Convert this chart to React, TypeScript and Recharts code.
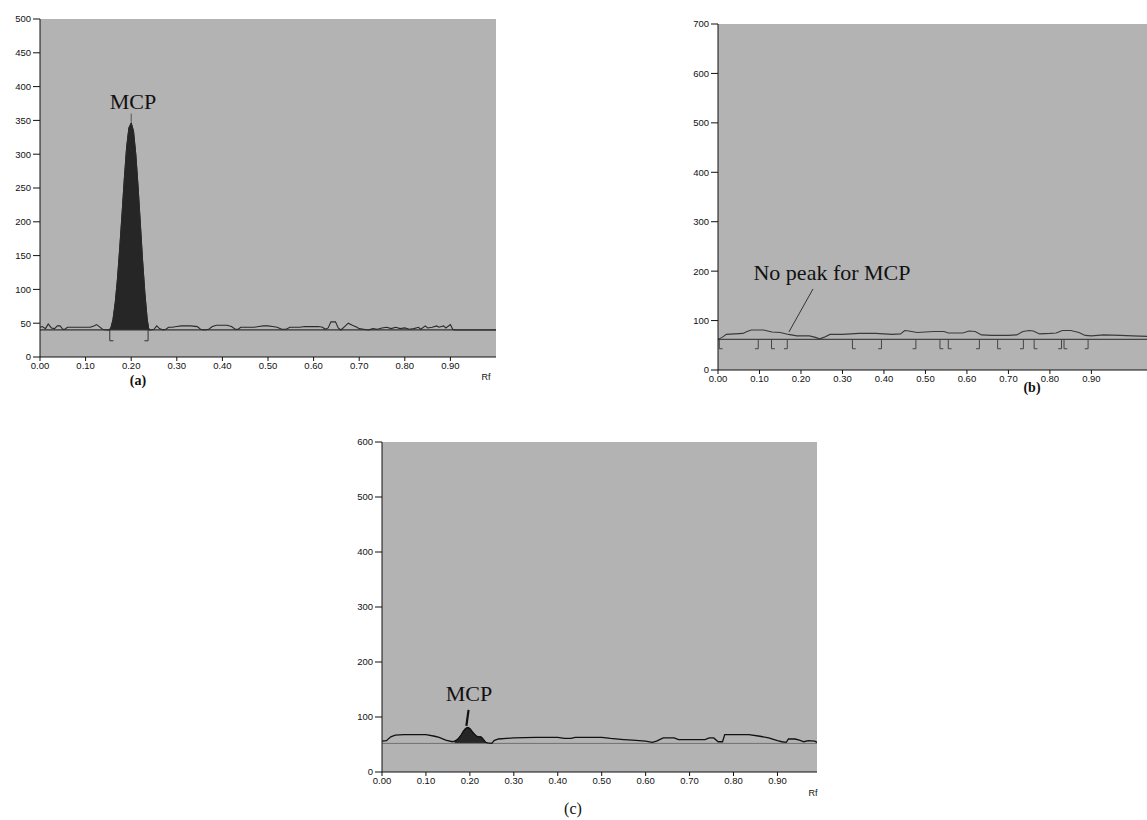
import React from 'react';
import {
  ComposedChart,
  Line,
  Area,
  XAxis,
  YAxis,
  ReferenceArea,
  ReferenceLine,
} from 'recharts';

// ---- panel (a) ----
const rfSignalA = [0, 0.005, 0.012, 0.018, 0.025, 0.032, 0.038, 0.044, 0.05, 0.055, 0.06, 0.07, 0.08, 0.09, 0.1, 0.11, 0.118, 0.124, 0.13, 0.137, 0.145, 0.15,
  0.242, 0.25, 0.256, 0.262, 0.27, 0.276, 0.282, 0.29, 0.3, 0.31, 0.32, 0.33, 0.345, 0.352, 0.36, 0.37, 0.378, 0.387, 0.41, 0.42, 0.428, 0.435, 0.44, 0.46, 0.47, 0.48, 0.49, 0.5, 0.51, 0.52, 0.53, 0.54, 0.548, 0.56, 0.57, 0.58, 0.6, 0.61, 0.62, 0.625, 0.632, 0.638, 0.648, 0.654, 0.66, 0.668, 0.676, 0.685, 0.695, 0.7, 0.71, 0.72, 0.73, 0.74, 0.75, 0.76, 0.77, 0.78, 0.79, 0.8, 0.81, 0.82, 0.83, 0.835, 0.845, 0.85, 0.86, 0.87, 0.875, 0.885, 0.89, 0.9, 0.905, 0.91, 1.0];
const valSignalA = [44, 45, 42, 49, 43, 42, 46, 46, 41, 41, 44, 44, 44, 44, 44, 44, 46, 48, 45, 41, 40, 40,
  40, 41, 46, 42, 40, 41, 44, 44, 45, 46, 46, 46, 45, 41, 40, 41, 45, 47, 47, 45, 41, 41, 44, 44, 44, 45, 46, 46, 45, 44, 41, 41, 44, 44, 44, 45, 45, 45, 44, 41, 43, 52, 52, 43, 40, 45, 50, 47, 44, 42, 41, 40, 42, 41, 43, 44, 42, 44, 42, 43, 41, 42, 44, 41, 46, 43, 44, 46, 44, 46, 43, 48, 41, 40, 40];
const rfPeakA = [0.15, 0.155, 0.16, 0.165, 0.17, 0.175, 0.18, 0.185, 0.19, 0.195, 0.2, 0.205, 0.21, 0.215, 0.22, 0.225, 0.23, 0.235, 0.238, 0.24];
const valPeakA = [40, 42, 55, 80, 116, 162, 212, 264, 310, 339, 346, 334, 300, 252, 197, 142, 94, 56, 43, 40];
const baselineA = 40;
const bracketsA: [number, 'L' | 'R'][] = [[0.153, 'L'], [0.237, 'R']];
const yTicksA = [0, 50, 100, 150, 200, 250, 300, 350, 400, 450, 500];

// ---- panel (b) ----
const rfSignalB = [0, 0.01, 0.02, 0.04, 0.06, 0.07, 0.08, 0.11, 0.12, 0.13, 0.15, 0.17, 0.19, 0.22, 0.235, 0.245, 0.255, 0.27, 0.3, 0.32, 0.34, 0.38, 0.4, 0.42, 0.44, 0.45, 0.46, 0.48, 0.5, 0.52, 0.545, 0.555, 0.59, 0.605, 0.62, 0.635, 0.66, 0.7, 0.72, 0.735, 0.75, 0.76, 0.775, 0.8, 0.815, 0.83, 0.85, 0.87, 0.885, 0.9, 0.93, 0.97, 1.0, 1.034];
const valSignalB = [62, 66, 72, 73, 74, 78, 81, 81, 79, 77, 76, 72, 69, 69, 66, 63, 66, 72, 72, 73, 74, 74, 73, 72, 73, 80, 79, 76, 77, 78, 78, 75, 75, 79, 78, 71, 70, 70, 71, 78, 80, 79, 73, 74, 75, 80, 80, 76, 70, 69, 71, 70, 69, 68];
const baselineB = 62;
const bracketsB: [number, 'L' | 'R'][] = [
  [0.003, 'L'], [0.097, 'R'], [0.129, 'L'], [0.167, 'R'], [0.324, 'L'], [0.394, 'R'],
  [0.477, 'R'], [0.535, 'L'], [0.555, 'L'], [0.63, 'R'], [0.674, 'L'], [0.736, 'R'],
  [0.762, 'L'], [0.828, 'R'], [0.834, 'L'], [0.892, 'R'],
];
const yTicksB = [0, 100, 200, 300, 400, 500, 600, 700];

// ---- panel (c) ----
const rfSignalC = [0, 0.01, 0.02, 0.03, 0.05, 0.1, 0.12, 0.13, 0.145, 0.16,
  0.25, 0.255, 0.265, 0.3, 0.35, 0.4, 0.415, 0.43, 0.44, 0.5, 0.52, 0.55, 0.57, 0.6, 0.615, 0.625, 0.64, 0.665, 0.675, 0.735, 0.745, 0.755, 0.765, 0.775, 0.78, 0.835, 0.86, 0.88, 0.9, 0.91, 0.92, 0.925, 0.94, 0.95, 0.96, 0.97, 0.985, 0.99];
const valSignalC = [56, 57, 64, 67, 68, 68, 65, 63, 58, 55,
  52, 57, 60, 62, 63, 63, 61, 61, 63, 63, 61, 59, 58, 56, 54, 56, 62, 62, 59, 59, 62, 62, 55, 55, 68, 68, 65, 62, 57, 55, 54, 60, 60, 58, 55, 57, 56, 54];
const rfPeakC = [0.165, 0.17, 0.175, 0.18, 0.185, 0.19, 0.195, 0.2, 0.205, 0.21, 0.215, 0.22, 0.225, 0.228, 0.232, 0.236, 0.24];
const valPeakC = [56, 58, 62, 67, 74, 79, 81, 79, 74, 69, 65, 64, 64, 62, 58, 54, 53];
const baselineC = 52;
const yTicksC = [0, 100, 200, 300, 400, 500, 600];

const xTicks = [0, 0.1, 0.2, 0.3, 0.4, 0.5, 0.6, 0.7, 0.8, 0.9];

function buildTable(sigRf: number[], sigVal: number[], peakRf: number[] = [], peakVal: number[] = []) {
  const rows: { rf: number; sig: number; peak: number | null }[] = [];
  sigRf.forEach((rf, i) => rows.push({ rf, sig: sigVal[i], peak: null }));
  peakRf.forEach((rf, i) => {
    const hit = rows.find((r) => r.rf === rf);
    if (hit) hit.peak = peakVal[i];
    else rows.push({ rf, sig: peakVal[i], peak: peakVal[i] });
  });
  return rows.sort((a, b) => a.rf - b.rf);
}

const dataA = buildTable(rfSignalA, valSignalA, rfPeakA, valPeakA);
const dataB = buildTable(rfSignalB, valSignalB);
const dataC = buildTable(rfSignalC, valSignalC, rfPeakC, valPeakC);

const sans = 'Arial, "Liberation Sans", sans-serif';
const tickStyle = { fontSize: 9.5, fill: '#111', fontFamily: sans };
const serif = '"Liberation Serif", "Times New Roman", serif';
const plotBg = '#b3b3b3';

function brackets(list: [number, 'L' | 'R'][], top: number, bottom: number, serifW: number, color: string) {
  const out: React.ReactNode[] = [];
  list.forEach(([rf, side], i) => {
    const x2 = side === 'L' ? rf + serifW : rf - serifW;
    out.push(
      <ReferenceLine key={`v${i}`} segment={[{ x: rf, y: top }, { x: rf, y: bottom }]} stroke={color} strokeWidth={1} />,
      <ReferenceLine key={`h${i}`} segment={[{ x: rf, y: bottom }, { x: x2, y: bottom }]} stroke={color} strokeWidth={1} />
    );
  });
  return out;
}

const Text = ({ x, y, size, children, weight = 'normal', family = serif }: any) => (
  <div
    style={{
      position: 'absolute',
      left: x,
      top: y,
      transform: 'translate(-50%, -50%)',
      fontSize: size,
      fontFamily: family,
      fontWeight: weight,
      lineHeight: 1,
      whiteSpace: 'nowrap',
      color: '#111',
    }}
  >
    {children}
  </div>
);

export default function App() {
  return (
    <div style={{ position: 'absolute', left: 0, top: 0, width: 1147, height: 820, background: '#fff', overflow: 'hidden' }}>
      {/* (a) */}
      <div style={{ position: 'absolute', left: 0, top: 0 }}>
        <ComposedChart width={510} height={380} data={dataA} margin={{ top: 19, right: 14, left: 0, bottom: 3 }}>
          <XAxis
            type="number"
            dataKey="rf"
            domain={[0, 1]}
            ticks={xTicks}
            interval={0}
            allowDataOverflow
            height={20}
            tickSize={4}
            tickMargin={1}
            tick={tickStyle}
            stroke="#111"
            tickFormatter={(v: number) => v.toFixed(2)}
          />
          <YAxis
            type="number"
            domain={[0, 500]}
            ticks={yTicksA}
            interval={0}
            allowDataOverflow
            width={40}
            tickSize={7}
            tickMargin={2}
            tick={tickStyle}
            stroke="#111"
          />
          <ReferenceArea x1={0} x2={1} y1={0} y2={500} fill={plotBg} fillOpacity={1} stroke="none" />
          <ReferenceLine y={baselineA} stroke="#333" strokeWidth={1.3} />
          {brackets(bracketsA, baselineA, 24, 0.008, '#333')}
          <Area type="linear" dataKey="peak" baseValue={baselineA} stroke="#222" fill="#262626" fillOpacity={1} dot={false} activeDot={false} isAnimationActive={false} />
          <Line type="linear" dataKey="sig" stroke="#2a2a2a" strokeWidth={1.1} dot={false} activeDot={false} connectNulls isAnimationActive={false} />
          <ReferenceLine segment={[{ x: 0.2, y: 348 }, { x: 0.2, y: 360 }]} stroke="#555" strokeWidth={1} />
        </ComposedChart>
      </div>
      <Text x={133} y={102} size={22}>MCP</Text>
      <Text x={486} y={377} size={9} family={sans}>Rf</Text>
      <Text x={138} y={381} size={14} weight="bold">(a)</Text>

      {/* (b) */}
      <div style={{ position: 'absolute', left: 680, top: 0 }}>
        <ComposedChart width={467} height={400} data={dataB} margin={{ top: 24, right: 0, left: 0, bottom: 3 }}>
          <XAxis
            type="number"
            dataKey="rf"
            domain={[0, 1.034]}
            ticks={xTicks}
            interval={0}
            allowDataOverflow
            height={27}
            tickSize={4}
            tickMargin={1}
            tick={tickStyle}
            stroke="#111"
            tickFormatter={(v: number) => v.toFixed(2)}
          />
          <YAxis
            type="number"
            domain={[0, 700]}
            ticks={yTicksB}
            interval={0}
            allowDataOverflow
            width={38}
            tickSize={7}
            tickMargin={2}
            tick={tickStyle}
            stroke="#111"
          />
          <ReferenceArea x1={0} x2={1.034} y1={0} y2={700} fill={plotBg} fillOpacity={1} stroke="none" />
          <ReferenceLine y={baselineB} stroke="#444" strokeWidth={1.1} />
          {brackets(bracketsB, baselineB, 43, 0.008, '#444')}
          <Line type="linear" dataKey="sig" stroke="#3a3a3a" strokeWidth={1.1} dot={false} activeDot={false} isAnimationActive={false} />
          <ReferenceLine segment={[{ x: 0.229, y: 164 }, { x: 0.171, y: 77 }]} stroke="#333" strokeWidth={1} />
        </ComposedChart>
      </div>
      <Text x={832} y={273} size={22}>No peak for MCP</Text>
      <Text x={1032} y={388} size={14} weight="bold">(b)</Text>

      {/* (c) */}
      <div style={{ position: 'absolute', left: 340, top: 420 }}>
        <ComposedChart width={490} height={380} data={dataC} margin={{ top: 22, right: 13, left: 0, bottom: 3 }}>
          <XAxis
            type="number"
            dataKey="rf"
            domain={[0, 0.99]}
            ticks={xTicks}
            interval={0}
            allowDataOverflow
            height={25}
            tickSize={4}
            tickMargin={1}
            tick={tickStyle}
            stroke="#111"
            tickFormatter={(v: number) => v.toFixed(2)}
          />
          <YAxis
            type="number"
            domain={[0, 600]}
            ticks={yTicksC}
            interval={0}
            allowDataOverflow
            width={42}
            tickSize={7}
            tickMargin={2}
            tick={tickStyle}
            stroke="#111"
          />
          <ReferenceArea x1={0} x2={0.99} y1={0} y2={600} fill={plotBg} fillOpacity={1} stroke="none" />
          <ReferenceLine y={baselineC} stroke="#707070" strokeWidth={1} />
          <Area type="linear" dataKey="peak" baseValue={baselineC} stroke="#222" fill="#262626" fillOpacity={1} dot={false} activeDot={false} isAnimationActive={false} />
          <Line type="linear" dataKey="sig" stroke="#111" strokeWidth={1.3} dot={false} activeDot={false} connectNulls isAnimationActive={false} />
          <ReferenceLine segment={[{ x: 0.197, y: 113 }, { x: 0.192, y: 84 }]} stroke="#111" strokeWidth={2.2} />
        </ComposedChart>
      </div>
      <Text x={469} y={694} size={22}>MCP</Text>
      <Text x={813} y={793} size={9} family={sans}>Rf</Text>
      <Text x={573} y={809} size={16}>(c)</Text>
    </div>
  );
}
